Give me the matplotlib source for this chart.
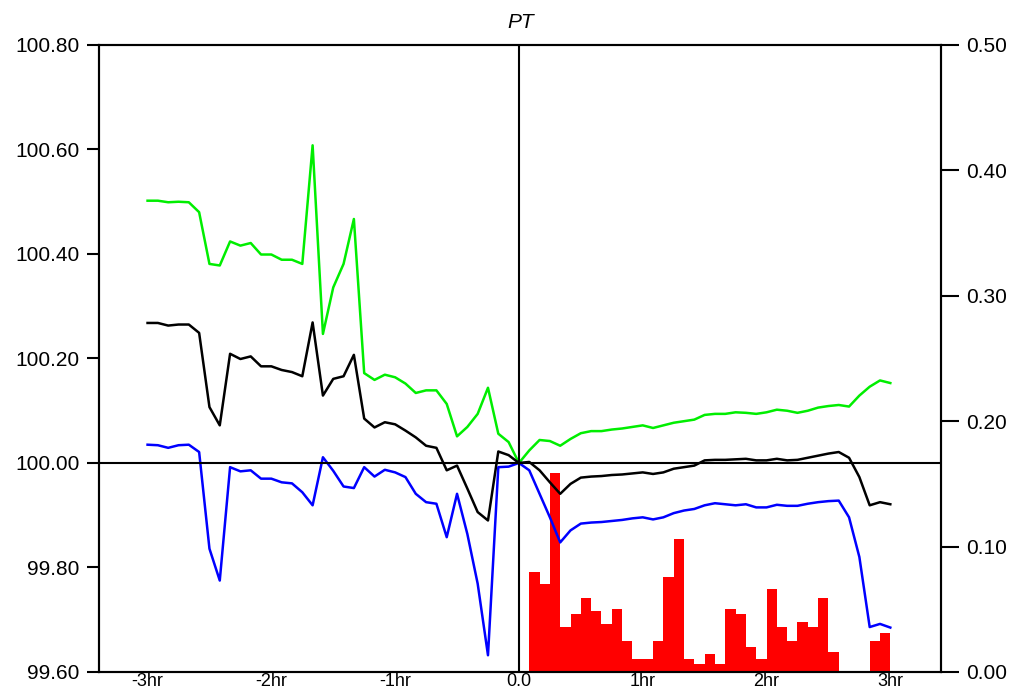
import numpy as np
import matplotlib
matplotlib.use('Agg')
import matplotlib.pyplot as plt

plt.rcParams['font.family'] = ['Liberation Sans', 'DejaVu Sans']

# minutes relative to the event, 5 min steps
minutes = np.arange(-180, 185, 5)

green = [100.502, 100.502, 100.499, 100.500, 100.499, 100.480, 100.381, 100.378,
         100.424, 100.416, 100.421, 100.399, 100.399, 100.389, 100.389, 100.381,
         100.608, 100.247, 100.336, 100.381, 100.467, 100.172, 100.159, 100.169,
         100.164, 100.152, 100.134, 100.139, 100.139, 100.113, 100.051, 100.069,
         100.094, 100.144, 100.056, 100.040, 100.000, 100.024, 100.044, 100.042,
         100.033, 100.046, 100.057, 100.061, 100.061, 100.064, 100.066, 100.069,
         100.072, 100.067, 100.072, 100.077, 100.080, 100.083, 100.092, 100.094,
         100.094, 100.097, 100.096, 100.094, 100.097, 100.102, 100.100, 100.096,
         100.100, 100.106, 100.109, 100.111, 100.108, 100.129, 100.146, 100.158,
         100.153]

black = [100.268, 100.268, 100.263, 100.265, 100.265, 100.249, 100.107, 100.072,
         100.209, 100.199, 100.204, 100.185, 100.185, 100.178, 100.174, 100.166,
         100.269, 100.129, 100.161, 100.166, 100.207, 100.085, 100.068, 100.078,
         100.074, 100.062, 100.049, 100.033, 100.029, 99.986, 99.995, 99.951,
         99.906, 99.890, 100.022, 100.015, 100.000, 100.002, 99.986, 99.963,
         99.941, 99.960, 99.972, 99.974, 99.975, 99.977, 99.978, 99.980,
         99.982, 99.979, 99.982, 99.989, 99.992, 99.995, 100.005, 100.006,
         100.006, 100.007, 100.008, 100.005, 100.005, 100.008, 100.005, 100.006,
         100.010, 100.014, 100.018, 100.021, 100.010, 99.973, 99.919, 99.925,
         99.921]

blue = [100.035, 100.034, 100.029, 100.034, 100.035, 100.021, 99.836, 99.775,
        99.992, 99.984, 99.986, 99.970, 99.970, 99.963, 99.961, 99.944,
        99.919, 100.011, 99.985, 99.955, 99.952, 99.992, 99.974, 99.987,
        99.982, 99.973, 99.941, 99.925, 99.922, 99.858, 99.941, 99.864,
        99.769, 99.632, 99.992, 99.993, 100.000, 99.986, 99.941, 99.896,
        99.848, 99.871, 99.884, 99.886, 99.887, 99.889, 99.891, 99.894,
        99.896, 99.892, 99.896, 99.904, 99.909, 99.912, 99.919, 99.923,
        99.921, 99.919, 99.921, 99.915, 99.915, 99.920, 99.918, 99.918,
        99.922, 99.925, 99.927, 99.928, 99.896, 99.820, 99.686, 99.692,
        99.685]

# volume bars, left edge of each 5 min bucket after the event
bar_minutes = np.arange(5, 180, 5)
volume = [0.080, 0.070, 0.159, 0.036, 0.046, 0.059, 0.049, 0.038, 0.050, 0.025,
          0.010, 0.010, 0.025, 0.076, 0.106, 0.010, 0.006, 0.014, 0.006, 0.050,
          0.046, 0.020, 0.010, 0.066, 0.036, 0.025, 0.040, 0.036, 0.059, 0.016,
          0.0, 0.0, 0.0, 0.025, 0.031]

xticks = [-3, -2, -1, 0, 1, 2, 3]
xticklabels = ['-3hr', '-2hr', '-1hr', '0.0', '1hr', '2hr', '3hr']
left_ticks = [99.6, 99.8, 100.0, 100.2, 100.4, 100.6, 100.8]
right_ticks = [0.0, 0.1, 0.2, 0.3, 0.4, 0.5]

fig = plt.figure(figsize=(10.13, 6.89), dpi=100)
ax = fig.add_axes([0.098, 0.0247, 0.831, 0.910])
ax2 = ax.twinx()

hours = minutes / 60.0
ax2.bar(bar_minutes / 60.0, volume, width=5 / 60.0, align='edge',
        color='#ff0000', linewidth=0)

ax.plot(hours, green, color='#00ee00', lw=1.8)
ax.plot(hours, black, color='black', lw=1.8)
ax.plot(hours, blue, color='#0000ff', lw=1.8)
ax.axhline(100.0, color='black', lw=1.5)
ax.axvline(0.0, color='black', lw=1.5)

# lines on top of the bars
ax.set_zorder(ax2.get_zorder() + 1)
ax.patch.set_visible(False)

ax.set_xlim(-3.39, 3.41)
ax.set_ylim(99.6, 100.8)
ax2.set_ylim(0.0, 0.5)

ax.set_xticks(xticks)
ax.set_xticklabels(xticklabels)
ax.set_yticks(left_ticks)
ax.set_yticklabels([f'{v:.2f}' for v in left_ticks])
ax2.set_yticks(right_ticks)
ax2.set_yticklabels([f'{v:.2f}' for v in right_ticks])

ax.tick_params(axis='x', length=0, labelsize=13, pad=1)
ax.tick_params(axis='y', length=9, width=1.5, labelsize=15, pad=5)
ax2.tick_params(axis='y', length=13, width=1.5, labelsize=15, pad=5)
for a in (ax, ax2):
    for s in a.spines.values():
        s.set_linewidth(1.5)

ax.set_title('PT', fontstyle='italic', fontsize=15, pad=12)

fig.savefig('out.png', dpi=100)
